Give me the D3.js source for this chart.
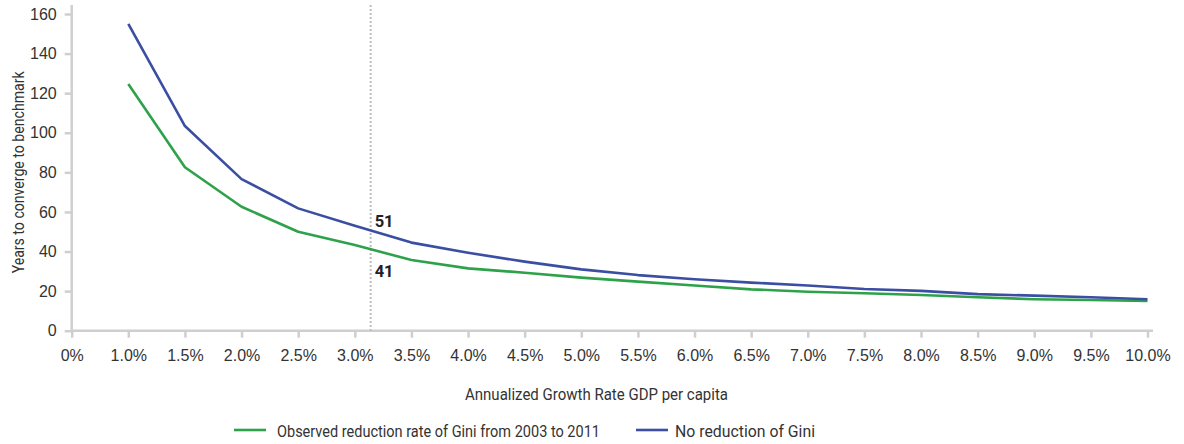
<!DOCTYPE html>
<html><head><meta charset="utf-8">
<script src="https://cdn.jsdelivr.net/npm/d3@7"></script>
<style>
body{margin:0;background:#fff;}
svg{display:block;font-family:Roboto,"Liberation Sans",sans-serif;}
</style></head><body>
<script>
const categories = ["0%","1.0%","1.5%","2.0%","2.5%","3.0%","3.5%","4.0%","4.5%","5.0%","5.5%","6.0%","6.5%","7.0%","7.5%","8.0%","8.5%","9.0%","9.5%","10.0%"];
const seriesCategories = categories.slice(1);
const observedGini = [124.6,82.6,62.6,50,43.3,35.7,31.5,29.3,26.8,24.8,22.8,20.9,19.7,18.9,18,16.9,15.9,15.5,15];
const noReductionGini = [155,103.4,76.6,61.8,53,44.5,39.4,34.9,31,28.1,26,24.3,22.8,21.1,20.1,18.5,17.7,16.9,15.9];
const yTicks = [0,20,40,60,80,100,120,140,160];
const markerRate = 3.14;
const markerLabels = [51,41];
const seriesNames = ["Observed reduction rate of Gini from 2003 to 2011","No reduction of Gini"];
const colors = ["#2ea24a","#3b4fa2"];

const W=1184,H=444;
const svg=d3.select("body").append("svg").attr("width",W).attr("height",H);
const x=d3.scalePoint().domain(categories).range([71.7,1147.5]);
const xr=d3.scaleLinear().domain([1,10]).range([x("1.0%"),x("10.0%")]);
const y=d3.scaleLinear().domain([0,160]).range([330.7,14]);
const axisColor="#cfcfcf", textColor="#333";

function condense(sel, width){
  sel.attr("textLength",width).attr("lengthAdjust","spacingAndGlyphs");
}

// x axis
const gx=svg.append("g").attr("transform",`translate(0,${y(0)})`)
  .call(d3.axisBottom(x).tickSize(7).tickPadding(12).tickSizeOuter(0));
gx.select(".domain").attr("d",`M${x("0%")},0H1153`).attr("stroke",axisColor).attr("stroke-width",2.5);
gx.selectAll(".tick line").attr("stroke",axisColor).attr("stroke-width",2.5);
gx.selectAll(".tick text").attr("fill",textColor).style("font-size","16px");

// y axis
const gy=svg.append("g").attr("transform",`translate(${x("0%")},0)`)
  .call(d3.axisLeft(y).tickValues(yTicks).tickSize(7).tickPadding(8).tickSizeOuter(0));
gy.select(".domain").attr("d",`M0,${y(0)}V5`).attr("stroke",axisColor).attr("stroke-width",2.5);
gy.selectAll(".tick line").attr("stroke",axisColor).attr("stroke-width",2.5);
gy.selectAll(".tick text").attr("fill",textColor).style("font-size","16px");

// axis titles
svg.append("text").attr("transform",`translate(24,${(y(0)+y(160))/2}) rotate(-90)`)
  .attr("text-anchor","middle").attr("fill",textColor).style("font-size","16.5px")
  .text("Years to converge to benchmark").call(condense,202);
svg.append("text").attr("x",596.5).attr("y",400).attr("text-anchor","middle")
  .attr("fill",textColor).style("font-size","16.5px").text("Annualized Growth Rate GDP per capita")
  .call(condense,263);

// marker line
svg.append("line").attr("x1",xr(markerRate)).attr("x2",xr(markerRate)).attr("y1",5).attr("y2",y(0))
  .attr("stroke","#bdbdbd").attr("stroke-width",2).attr("stroke-dasharray","2,2");

// lines
const line=d3.line().x((d,i)=>x(seriesCategories[i])).y(d=>y(d));
[observedGini,noReductionGini].forEach((s,k)=>{
  svg.append("path").datum(s).attr("d",line).attr("fill","none")
    .attr("stroke",colors[k]).attr("stroke-width",2.6).attr("stroke-linejoin","round");
});

// marker labels
svg.append("text").attr("x",xr(markerRate)+4).attr("y",y(markerLabels[0])-3)
  .attr("fill","#222").style("font-size","16.5px").style("font-weight","bold").text(markerLabels[0]);
svg.append("text").attr("x",xr(markerRate)+4).attr("y",y(markerLabels[1])+27.5)
  .attr("fill","#222").style("font-size","16.5px").style("font-weight","bold").text(markerLabels[1]);

// legend
const lineX=[234,636], textX=[277,675], textW=[323,140];
seriesNames.forEach((n,k)=>{
  svg.append("line").attr("x1",lineX[k]).attr("x2",lineX[k]+32).attr("y1",430).attr("y2",430)
    .attr("stroke",colors[k]).attr("stroke-width",2.6);
  svg.append("text").attr("x",textX[k]).attr("y",437).attr("fill",textColor)
    .style("font-size","16.5px").text(n).call(condense,textW[k]);
});
</script>
</body></html>
